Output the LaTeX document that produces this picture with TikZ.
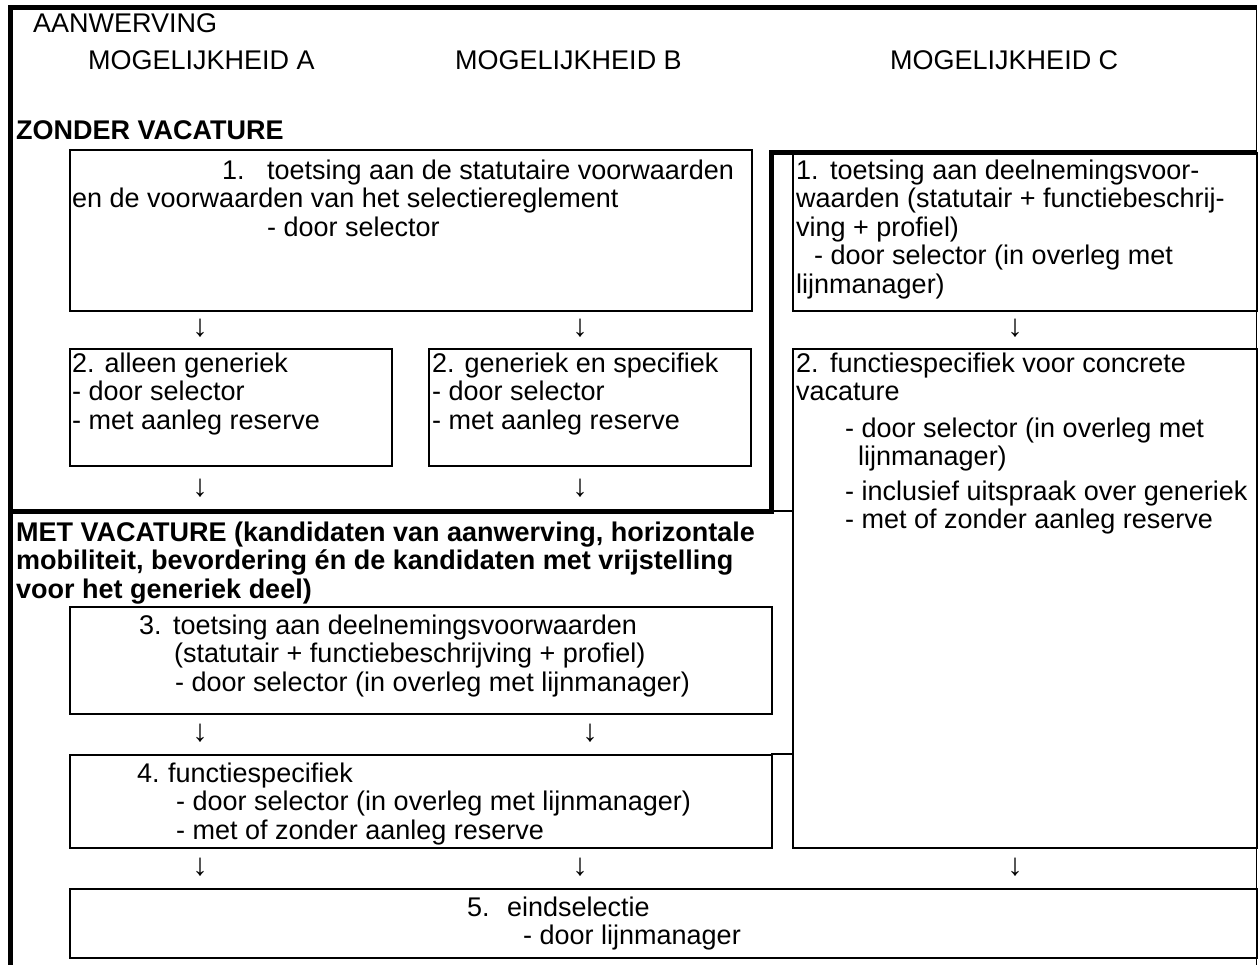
\documentclass[tikz,border=0pt]{standalone}
\usepackage{fontspec}
\setmainfont{Liberation Sans}
\newcommand\lbl[2]{\makebox[#1][l]{#2}}
\begin{document}
\begin{tikzpicture}[x=1bp,y=-1bp,
  tx/.style={anchor=base west, inner sep=0pt, font=\fontsize{27bp}{28.5bp}\selectfont},
  bt/.style={tx, font=\fontsize{27bp}{28.5bp}\selectfont\bfseries},
  arr/.style={inner sep=0pt, anchor=center, font=\fontsize{31bp}{31bp}\selectfont},
  box/.style={draw, line width=1.5bp, anchor=north west, inner sep=0pt},
  frame/.style={line width=5bp},
  rule/.style={line width=1.5bp}]
\useasboundingbox (0,0) rectangle (1258,965);
% frame
\draw[frame] (8,7.5) -- (1257,7.5);
\draw[frame] (10.5,5) -- (10.5,965);
\draw[rule] (1256.5,5) -- (1256.5,965);
\draw[frame] (771,152) -- (1257,152);
\draw[frame] (771,150) -- (771,513.5);
\draw[frame] (8,511) -- (773,511);
\draw[rule] (771,511) -- (792,511);
\draw[rule] (771,754) -- (792,754);
% boxes
\node[box, minimum width=682bp, minimum height=161bp] (B1) at (69,149) {};
\node[box, minimum width=464bp, minimum height=158bp] (C1) at (792,152) {};
\node[box, minimum width=322bp, minimum height=117bp] (B2A) at (69,348) {};
\node[box, minimum width=322bp, minimum height=117bp] (B2B) at (428,348) {};
\node[box, minimum width=464bp, minimum height=499bp] (C2) at (792,348) {};
\node[box, minimum width=702bp, minimum height=107bp] (B3) at (69,606) {};
\node[box, minimum width=702bp, minimum height=93bp] (B4) at (69,754) {};
\node[box, minimum width=1187bp, minimum height=69bp] (B5) at (69,888) {};
% header
\node[tx] (h0) at (33,32) {AANWERVING};
\node[tx] (hA) at (88,69) {MOGELIJKHEID A};
\node[tx] (hB) at (455,69) {MOGELIJKHEID B};
\node[tx] (hC) at (890,69) {MOGELIJKHEID C};
\node[bt] (zv) at (16,139) {ZONDER VACATURE};
% box 1
\node[tx] (b1a) at (222,179) {\lbl{45bp}{1.}toetsing aan de statutaire voorwaarden};
\node[tx] (b1b) at (72,207.5) {en de voorwaarden van het selectiereglement};
\node[tx] (b1c) at (267,236) {- door selector};
% box C1
\node[tx] (c1a) at (796,179) {\lbl{34bp}{1.}toetsing aan deelnemingsvoor-};
\node[tx] (c1b) at (796,207.5) {waarden (statutair + functiebeschrij-};
\node[tx] (c1c) at (796,236) {ving + profiel)};
\node[tx] (c1d) at (814,264.5) {- door selector (in overleg met};
\node[tx] (c1e) at (796,293) {lijnmanager)};
% box 2A / 2B
\node[tx] (a2a) at (72,372) {2. alleen generiek};
\node[tx] (a2b) at (72,400.5) {- door selector};
\node[tx] (a2c) at (72,429) {- met aanleg reserve};
\node[tx] (b2a) at (432,372) {2. generiek en specifiek};
\node[tx] (b2b) at (432,400.5) {- door selector};
\node[tx] (b2c) at (432,429) {- met aanleg reserve};
% box C2
\node[tx] (c2a) at (796,372) {\lbl{34bp}{2.}functiespecifiek voor concrete};
\node[tx] (c2b) at (796,400.5) {vacature};
\node[tx] (c2c) at (845,437) {- door selector (in overleg met};
\node[tx] (c2d) at (858,465.5) {lijnmanager)};
\node[tx] (c2e) at (845,500) {- inclusief uitspraak over generiek};
\node[tx] (c2f) at (845,528.5) {- met of zonder aanleg reserve};
% met vacature
\node[bt] (mv1) at (16,541) {MET VACATURE (kandidaten van aanwerving, horizontale};
\node[bt] (mv2) at (16,569.5) {mobiliteit, bevordering én de kandidaten met vrijstelling};
\node[bt] (mv3) at (16,598) {voor het generiek deel)};
% box 3
\node[tx] (b3a) at (139,634) {\lbl{34bp}{3.}toetsing aan deelnemingsvoorwaarden};
\node[tx] (b3b) at (174,662.5) {(statutair + functiebeschrijving + profiel)};
\node[tx] (b3c) at (175,691) {- door selector (in overleg met lijnmanager)};
% box 4
\node[tx] (b4a) at (137,782) {\lbl{31bp}{4.}functiespecifiek};
\node[tx] (b4b) at (176,810.5) {- door selector (in overleg met lijnmanager)};
\node[tx] (b4c) at (176,839) {- met of zonder aanleg reserve};
% box 5
\node[tx] (b5a) at (467,916) {\lbl{40bp}{5.}eindselectie};
\node[tx] (b5b) at (523,944.5) {- door lijnmanager};
% arrows
\node[arr] (r1a) at (200,328) {↓};
\node[arr] (r1b) at (580,328) {↓};
\node[arr] (r1c) at (1015,328) {↓};
\node[arr] (r2a) at (200,488) {↓};
\node[arr] (r2b) at (580,488) {↓};
\node[arr] (r3a) at (200,733) {↓};
\node[arr] (r3b) at (590,733) {↓};
\node[arr] (r4a) at (200,867) {↓};
\node[arr] (r4b) at (580,867) {↓};
\node[arr] (r4c) at (1015,867) {↓};
\end{tikzpicture}
\end{document}
